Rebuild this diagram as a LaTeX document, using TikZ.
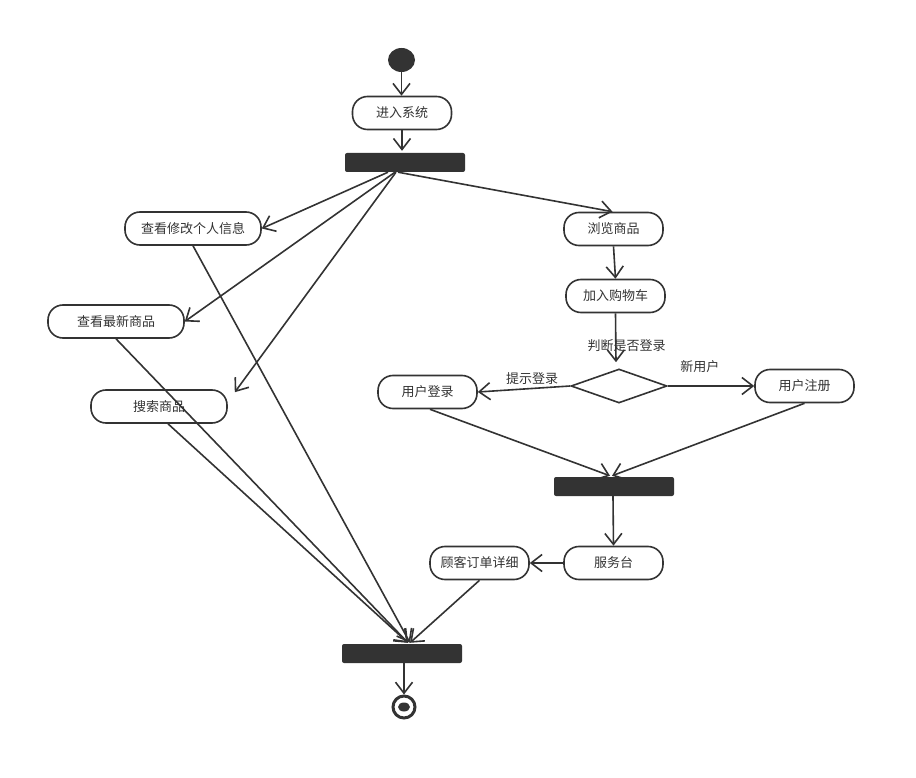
\documentclass[tikz,border=0pt]{standalone}
\usepackage{fontspec}
\setmainfont{Noto Sans CJK SC}
\usetikzlibrary{arrows.meta,shapes.geometric,calc}
\definecolor{ink}{HTML}{333333}
\begin{document}
\begin{tikzpicture}[x=1pt,y=-1pt,
  act/.style={draw=ink,line width=1.6pt,rounded corners=15pt,minimum width=99pt,minimum height=33pt,inner sep=0pt,font=\fontsize{13}{15}\selectfont,text=ink,fill=white},
  bar/.style={fill=ink,draw=none,rounded corners=2pt,minimum width=120pt,minimum height=19pt,inner sep=0pt},
  flow/.style={draw=ink,line width=1.6pt,-{Straight Barb[length=11pt,width=17pt,line width=1.6pt]}},
  lbl/.style={font=\fontsize{13}{15}\selectfont,text=ink,inner sep=0pt}]
\useasboundingbox (0,0) rectangle (916,778);
% nodes
\node[ellipse,fill=ink,minimum width=27pt,minimum height=24pt,inner sep=0pt] (start) at (401.5,60) {};
\node[act] (enter) at (402,113) {进入系统};
\node[bar] (b1) at (405,162.5) {};
\node[act,minimum width=136pt] (info) at (193,228.5) {查看修改个人信息};
\node[act] (browse) at (613.5,229) {浏览商品};
\node[act,minimum width=136pt] (newest) at (116,321.5) {查看最新商品};
\node[act,minimum width=136pt] (search) at (159,406.5) {搜索商品};
\node[act] (cart) at (615.5,296) {加入购物车};
\node[diamond,draw=ink,line width=1.6pt,minimum width=96pt,minimum height=34pt,aspect=2.8,inner sep=0pt] (dec) at (619,386) {};
\node[act] (login) at (427.5,392) {用户登录};
\node[act] (reg) at (804.5,386) {用户注册};
\node[bar] (b2) at (614,486.5) {};
\node[act] (desk) at (613.5,563) {服务台};
\node[act] (order) at (479.5,563) {顾客订单详细};
\node[bar] (b3) at (402,653.5) {};
\node[circle,draw=ink,line width=3pt,minimum size=22pt,inner sep=0pt] (end) at (404,707) {};
\node[ellipse,fill=ink,minimum width=12pt,minimum height=9pt,inner sep=0pt] (endin) at (404,707) {};
% connectors
\draw[flow] (start.south) -- (start.south |- enter.north);
\draw[flow] (enter.south) -- ([yshift=2pt]b1.north -| enter.south);
\draw[flow] ([xshift=-17pt]b1.south) -- (info.east);
\draw[flow] ([xshift=-10pt]b1.south) -- (newest.east);
\draw[flow] ([xshift=-9pt]b1.south) -- ([xshift=7pt,yshift=-3pt]search.north east);
\draw[flow] ([xshift=-7pt]b1.south) -- ([xshift=-1pt]browse.north);
\draw[flow] (browse.south) -- (cart.north);
\draw[flow] (cart.south) -- ([xshift=-3pt,yshift=6pt]dec.north) node[lbl,pos=0.66,right=-29pt] {判断是否登录};
\draw[flow] (dec.west) -- (login.east) node[lbl,midway,above=4pt,xshift=8pt] {提示登录};
\draw[flow] (dec.east) -- (reg.west) node[lbl,pos=0.37,above=13pt] {新用户};
\draw[flow] ([xshift=2.5pt]login.south) -- ([xshift=-4pt,yshift=1pt]b2.north);
\draw[flow] (reg.south) -- ([xshift=-2pt,yshift=1pt]b2.north);
\draw[flow] ([xshift=-1pt]b2.south) -- (desk.north);
\draw[flow] (desk.west) -- (order.east);
\draw[flow] (order.south) -- ([xshift=8pt,yshift=1pt]b3.north);
\draw[flow] (info.south) -- ([xshift=8pt,yshift=1pt]b3.north);
\draw[flow] (newest.south) -- ([xshift=6pt,yshift=1pt]b3.north);
\draw[flow] ([xshift=9pt]search.south) -- ([xshift=6pt,yshift=1pt]b3.north);
\draw[flow] ([xshift=2pt]b3.south) -- (end.north);
\end{tikzpicture}
\end{document}
